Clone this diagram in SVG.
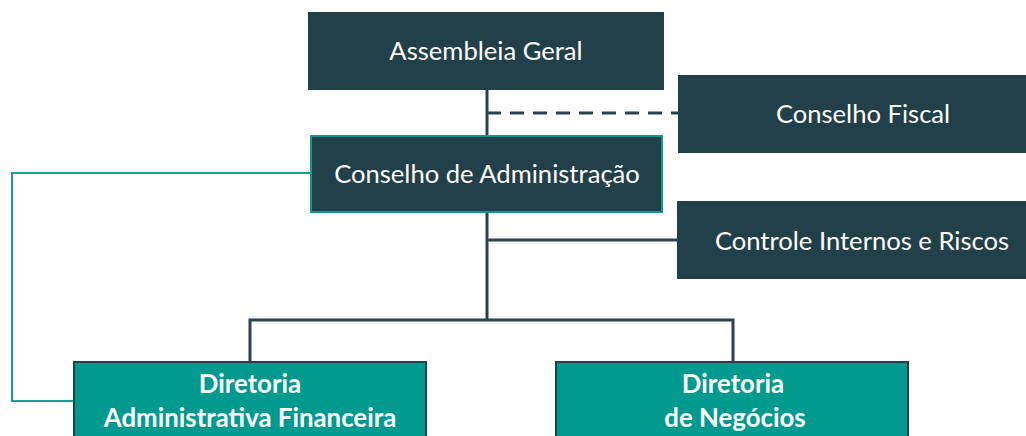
<svg xmlns="http://www.w3.org/2000/svg" width="1026" height="436" viewBox="0 0 1026 436">
<style>
.dark{fill:#22404a;stroke:#22404a;stroke-width:1}
.teal{fill:#009a8f;stroke:#22404a;stroke-width:2}
.t{font-family:Lato,"Liberation Sans",sans-serif;font-size:25.6px;fill:#ffffff;text-anchor:middle}
.b{font-weight:bold;font-size:25.8px}
.ln{fill:none;stroke:#2a434d;stroke-width:3}
</style>
<rect width="1026" height="436" fill="#ffffff"/>
<g id="connectors">
<path class="ln" d="M487 90 V136 M487 212 V320 M250 362 V320 H733 V362 M487 240 H678"/>
<path class="ln" d="M487 113 H678" stroke-dasharray="14 9"/>
<path fill="none" stroke="#1a9e96" stroke-width="2" d="M311 173 H12 V401 H74"/>
</g>
<g id="assembleia">
<rect class="dark" x="308.5" y="12.5" width="355" height="77"/>
<text class="t" x="486" y="60">Assembleia Geral</text>
</g>
<g id="fiscal">
<rect class="dark" x="678.5" y="75.5" width="370" height="77"/>
<text class="t" x="863" y="123">Conselho Fiscal</text>
</g>
<g id="conselho">
<rect x="311" y="136" width="351" height="76" fill="#22404a" stroke="#0f9a90" stroke-width="2"/>
<text class="t" x="487" y="183">Conselho de Administração</text>
</g>
<g id="controle">
<rect class="dark" x="677.5" y="201.5" width="370" height="77"/>
<text class="t" x="862" y="250">Controle Internos e Riscos</text>
</g>
<g id="dir-admin">
<rect class="teal" x="74" y="362" width="352" height="90"/>
<text class="t b" x="250" y="393">Diretoria</text>
<text class="t b" x="250" y="427">Administrativa Financeira</text>
</g>
<g id="dir-negocios">
<rect class="teal" x="556" y="362" width="352" height="90"/>
<text class="t b" x="733" y="393">Diretoria</text>
<text class="t b" x="735" y="427">de Negócios</text>
</g>
</svg>
